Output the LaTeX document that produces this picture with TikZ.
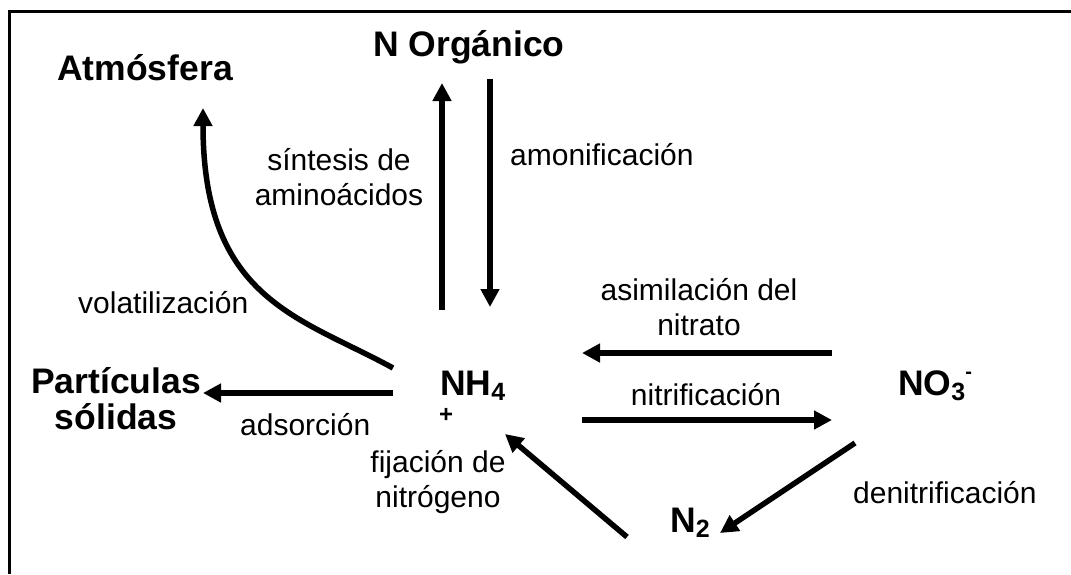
\documentclass[tikz,border=0pt]{standalone}
\usepackage{fontspec}
\setmainfont{Liberation Sans}
\usetikzlibrary{arrows.meta}
\begin{document}
\begin{tikzpicture}[x=1pt,y=-1pt,
  flow/.style={line width=5.5pt,-{Triangle[length=18pt,width=18pt]}},
  big/.style={font=\fontsize{35.5}{35}\selectfont\bfseries, inner sep=0pt},
  lab/.style={font=\fontsize{30}{35}\selectfont, inner sep=0pt},
]
\useasboundingbox (0,0) rectangle (1071,574);
\draw[line width=3pt] (9.5,574) -- (9.5,11) -- (1071,11);

% species
\node[big,anchor=base] (atm) at (145,80) {Atmósfera};
\node[big,anchor=base] (norg) at (469,56) {N Orgánico};
\node[big,anchor=base] (part) at (116,393) {\begin{tabular}[t]{@{}c@{}}Partículas\\sólidas\end{tabular}};
\node[big,anchor=base west] (nh4) at (440,395) {NH\raisebox{-5pt}{\fontsize{25}{25}\selectfont 4}};
\node[big,anchor=base west,font=\fontsize{24}{24}\selectfont\bfseries] (plus) at (439,422) {+};
\node[big,anchor=base west] (no3) at (898,395) {NO\raisebox{-5pt}{\fontsize{25}{25}\selectfont 3}\raisebox{17pt}{\fontsize{20}{20}\selectfont -}};
\node[big,anchor=base west] (n2) at (670,532) {N\raisebox{-5pt}{\fontsize{25}{25}\selectfont 2}};

% process labels
\node[lab,anchor=base] (sint) at (339,170) {\begin{tabular}[t]{@{}c@{}}síntesis de\\aminoácidos\end{tabular}};
\node[lab,anchor=base west] (amon) at (510,165) {amonificación};
\node[lab,anchor=base west] (vol) at (78,313) {volatilización};
\node[lab,anchor=base west] (ads) at (240,435) {adsorción};
\node[lab,anchor=base] (asim) at (699,300) {\begin{tabular}[t]{@{}c@{}}asimilación del\\nitrato\end{tabular}};
\node[lab,anchor=base] (nitr) at (706,405) {nitrificación};
\node[lab,anchor=base west] (den) at (853,503) {denitrificación};
\node[lab,anchor=base] (fij) at (438,472) {\begin{tabular}[t]{@{}c@{}}fijación de\\nitrógeno\end{tabular}};

% arrow end points
\coordinate (s1) at (442,310); \coordinate (s2) at (442,83);
\coordinate (a1) at (490,79);  \coordinate (a2) at (490,307);
\coordinate (v1) at (393,368); \coordinate (v2) at (203,108);
\coordinate (d1) at (393,393); \coordinate (d2) at (203,393);
\coordinate (m1) at (832,353); \coordinate (m2) at (582,353);
\coordinate (t1) at (582,420); \coordinate (t2) at (832,420);
\coordinate (e1) at (855,443); \coordinate (e2) at (720,533);
\coordinate (f1) at (627,537); \coordinate (f2) at (505,434);

\draw[flow] (s1) -- (s2);
\draw[flow] (a1) -- (a2);
\draw[flow] (v1) .. controls (300,317) and (203,300) .. (v2);
\draw[flow] (d1) -- (d2);
\draw[flow] (m1) -- (m2);
\draw[flow] (t1) -- (t2);
\draw[flow] (e1) -- (e2);
\draw[flow] (f1) -- (f2);
\end{tikzpicture}
\end{document}
